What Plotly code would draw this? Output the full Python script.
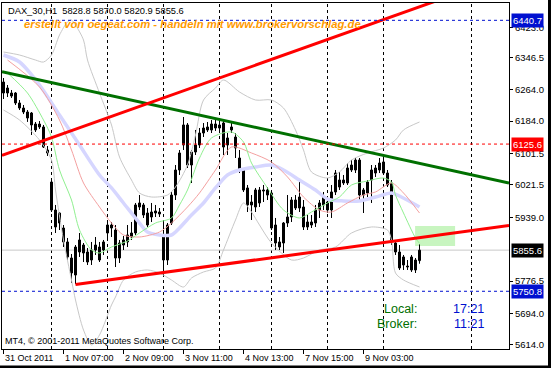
import plotly.graph_objects as go

# ---------------- data ----------------
bars = list(range(105))
opens = [6283.6, 6255.6, 6255.6, 6255.6, 6230.2, 6217.4, 6207.2, 6204.7, 6161.5, 6176.7,
         6169.1, 6110.5, 6029.0, 5957.7, 5950.1, 5911.9, 5876.3, 5835.5, 5792.2, 5850.8,
         5868.6, 5850.8, 5830.4, 5855.9, 5863.5, 5855.9, 5899.2, 5919.5, 5906.8, 5835.5,
         5868.6, 5876.3, 5889.0, 5899.2, 5965.4, 5970.5, 5950.1, 5939.9, 5950.1, 5952.6,
         5889.0, 5830.4, 5924.6, 5995.9, 6059.6, 6123.2, 6174.2, 6072.3, 6105.4, 6123.2,
         6153.8, 6169.1, 6161.5, 6166.5, 6166.5, 6179.2, 6141.1, 6161.5, 6143.6, 6090.1,
         6059.6, 6013.8, 5970.5, 5965.4, 5975.6, 6006.0, 6008.7, 6001.0, 5919.5, 5876.3,
         5873.7, 5924.6, 5939.9, 5983.2, 5962.8, 5965.4, 5914.5, 5919.5, 5924.6, 5957.7,
         5970.5, 5978.1, 5957.7, 6003.6, 6016.3, 6034.1, 6026.5, 6072.3, 6059.6, 6085.0,
         5995.9, 6001.0, 6034.1, 6051.9, 6059.6, 6080.0, 6051.9, 6026.5, 5873.7, 5850.8,
         5817.7, 5815.0, 5838.1, 5805.0, 5828.8]
highs = [6293.8, 6276.0, 6263.3, 6258.0, 6237.8, 6225.1, 6212.3, 6207.2, 6181.8, 6184.3,
         6174.2, 6120.7, 6039.2, 5970.5, 5952.6, 5919.5, 5886.5, 5845.7, 5868.6, 5899.2,
         5873.7, 5861.0, 5876.3, 5889.0, 5876.3, 5881.4, 5924.6, 5927.2, 5919.5, 5881.4,
         5891.6, 5919.5, 5927.2, 5975.6, 5995.9, 5975.6, 5962.8, 5975.6, 5970.5, 5962.8,
         5924.6, 5924.6, 6003.6, 6072.3, 6110.5, 6194.5, 6179.2, 6110.5, 6161.5, 6166.5,
         6179.2, 6181.8, 6186.9, 6192.0, 6186.9, 6186.9, 6153.8, 6179.2, 6153.8, 6110.5,
         6064.7, 6021.4, 5995.9, 6013.8, 6016.3, 6021.4, 6016.3, 6008.7, 5937.4, 5889.0,
         5927.2, 5995.9, 5990.8, 5995.9, 6034.1, 5983.2, 5945.0, 5945.0, 5970.5, 5983.2,
         6003.6, 5993.3, 6021.4, 6059.6, 6054.5, 6046.9, 6077.4, 6085.0, 6090.1, 6090.1,
         6013.8, 6034.1, 6072.3, 6072.3, 6090.1, 6092.7, 6059.6, 6034.1, 5881.4, 5868.6,
         5843.2, 5830.4, 5843.2, 5835.5, 5870.0]
lows = [6240.3, 6245.4, 6243.0, 6225.1, 6212.3, 6202.0, 6182.0, 6148.7, 6156.4, 6164.0,
        6115.6, 6095.3, 5952.6, 5899.2, 5906.8, 5863.5, 5830.4, 5771.9, 5769.0, 5838.1,
        5825.3, 5817.7, 5817.7, 5843.2, 5825.3, 5843.2, 5881.4, 5889.0, 5812.6, 5822.8,
        5855.9, 5863.5, 5881.4, 5894.1, 5957.7, 5937.4, 5914.5, 5927.2, 5939.9, 5939.9,
        5802.0, 5817.7, 5919.5, 5983.2, 6046.9, 6110.5, 6064.7, 6026.5, 6097.8, 6115.6,
        6143.6, 6156.4, 6153.8, 6159.0, 6161.5, 6097.8, 6097.8, 6153.8, 6090.1, 6051.9,
        6003.6, 5952.6, 5932.3, 5952.6, 5965.4, 5978.1, 5983.2, 5906.8, 5855.9, 5855.9,
        5848.3, 5914.5, 5927.2, 5957.7, 5952.6, 5906.8, 5906.8, 5911.9, 5914.5, 5937.4,
        5957.7, 5950.1, 5937.4, 5995.9, 6008.7, 6021.4, 6021.4, 6054.5, 6051.9, 5983.2,
        5950.1, 5990.8, 5975.6, 6041.8, 6051.9, 6046.9, 6016.3, 5868.6, 5843.2, 5805.0,
        5805.0, 5805.0, 5800.0, 5797.3, 5820.9]
closes = [6255.6, 6268.4, 6248.0, 6230.2, 6217.4, 6207.2, 6192.0, 6174.2, 6176.7, 6169.1,
          6118.1, 6102.9, 5957.7, 5914.5, 5924.6, 5876.3, 5838.1, 5797.3, 5863.5, 5881.4,
          5848.3, 5825.3, 5855.9, 5868.6, 5830.4, 5876.3, 5919.5, 5911.9, 5835.5, 5873.7,
          5881.4, 5894.1, 5899.2, 5970.5, 5975.6, 5945.0, 5919.5, 5952.6, 5955.2, 5947.6,
          5830.4, 5919.5, 5995.9, 6059.6, 6102.9, 6174.2, 6072.3, 6105.4, 6123.2, 6153.8,
          6166.5, 6161.5, 6176.7, 6176.7, 6174.2, 6118.1, 6123.2, 6169.1, 6115.6, 6059.6,
          6008.7, 5970.5, 5978.1, 6008.7, 6008.7, 6008.7, 5995.9, 5911.9, 5873.7, 5863.5,
          5924.6, 5939.9, 5983.2, 5962.8, 5990.8, 5914.5, 5927.2, 5927.2, 5957.7, 5975.6,
          5990.8, 5957.7, 6003.6, 6051.9, 6034.1, 6026.5, 6064.7, 6059.6, 6085.0, 5995.9,
          6008.7, 6029.0, 6059.6, 6064.7, 6077.4, 6051.9, 6021.4, 5881.4, 5850.8, 5810.1,
          5838.1, 5812.6, 5805.0, 5830.4, 5855.6]

fast_ma_bars = [1, 6, 10, 12, 14, 17, 19, 22, 24, 27, 31, 34, 38, 42, 44, 46, 49, 52, 57, 60,
                62, 66, 70, 74, 77, 81, 84, 87, 91, 95, 97, 98, 100, 103, 104]
fast_ma_vals = [6306.5, 6255.6, 6186.9, 6143.6, 6059.6, 5983.2, 5906.8, 5855.9, 5848.3, 5863.5,
                5878.8, 5899.2, 5924.6, 5937.4, 5970.5, 6008.7, 6090.1, 6141.1, 6156.3, 6130.9,
                6077.4, 6013.8, 5957.7, 5937.4, 5952.6, 5975.6, 5990.8, 6021.4, 6031.6, 6039.2,
                6029.0, 5995.9, 5950.1, 5886.5, 5873.0]
mid_ma_bars = [1, 9, 14, 17, 20, 24, 27, 30, 34, 39, 42, 46, 49, 53, 57, 62, 67, 71, 75, 79,
               82, 86, 90, 93, 97, 100, 104]
mid_ma_vals = [6339.6, 6270.9, 6186.9, 6110.5, 6026.5, 5965.4, 5924.6, 5894.1, 5889.0, 5901.7,
               5924.6, 5965.4, 6001.0, 6059.6, 6118.1, 6102.9, 6079.9, 6041.8, 5990.8, 5957.7,
               5952.6, 5975.6, 5995.9, 6003.6, 6026.5, 6001.0, 5950.1]
slow_ma_bars = [0, 4, 9, 14, 19, 24, 27, 30, 34, 36, 39, 42, 44, 47, 50, 53, 56, 59, 63, 67,
                70, 74, 78, 81, 85, 89, 93, 97, 99, 104]
slow_ma_vals = [6352.4, 6334.5, 6276.0, 6199.6, 6123.2, 6046.9, 6013.8, 5975.6, 5924.6, 5901.7,
                5894.1, 5894.1, 5911.9, 5945.0, 5975.6, 6013.8, 6046.9, 6059.6, 6067.2, 6072.3,
                6059.6, 6034.1, 6008.7, 5985.7, 5980.7, 5980.7, 5990.8, 6001.0, 5993.4, 5965.4]
band_up_bars = [0, 4, 8, 10, 12, 14, 16, 17, 18, 20, 21, 24, 27, 29, 32, 34, 37, 41, 43, 46,
                48, 50, 53, 55, 59, 63, 67, 70, 73, 75, 77, 81, 84, 87, 91, 95, 98, 100, 104]
band_up_vals = [6360.0, 6352.4, 6339.6, 6334.5, 6352.4, 6403.3, 6436.4, 6441.5, 6428.8, 6390.6,
                6339.6, 6255.6, 6174.2, 6092.7, 6034.1, 6001.0, 5990.8, 5995.9, 6016.3, 6072.3,
                6148.7, 6237.8, 6268.4, 6288.7, 6258.2, 6237.8, 6237.8, 6217.4, 6161.5, 6110.5,
                6054.5, 6039.2, 6054.5, 6085.0, 6102.9, 6115.6, 6136.0, 6161.5, 6181.8]
band_lo_bars = [0, 4, 9, 12, 13, 15, 17, 18, 20, 22, 24, 27, 28, 30, 33, 36, 39, 42, 45, 47,
                50, 53, 55, 58, 60, 62, 64, 67, 72, 75, 79, 83, 87, 92, 96, 97, 98, 100, 104]
band_lo_vals = [6212.3, 6186.9, 6136.0, 6085.0, 6008.7, 5881.4, 5779.5, 5728.6, 5652.2, 5614.0,
                5639.5, 5715.9, 5736.2, 5779.5, 5799.9, 5805.0, 5797.3, 5779.5, 5761.7, 5784.6,
                5799.9, 5810.1, 5855.9, 5932.3, 5975.6, 5952.6, 5919.5, 5873.7, 5830.4, 5835.5,
                5855.9, 5863.5, 5899.2, 5914.5, 5906.8, 5881.4, 5797.3, 5779.5, 5761.7]

# trend lines: two anchor points each (bar index, price)
green_line_bars = [0, 126]
green_line_prices = [6308.8, 6027.5]
resist_line_bars = [0, 100]
resist_line_prices = [6098.3, 6460.6]
support_line_bars = [18, 124]
support_line_prices = [5768.3, 5914.9]

# horizontal levels
level_prices = [6440.7, 6125.6, 5750.8]
level_colors = ["#0010D0", "#FF0000", "#0010D0"]
bid_price = 5855.6

# rectangle object
rect_bars = [102.9, 112.9]
rect_prices = [5866.0, 5917.0]

price_ticks = [6423.0, 6346.5, 6264.0, 6184.0, 6101.5, 6021.5, 5939.0, 5776.5, 5694.0, 5614.0]
time_label_bars = [0, 15, 30, 45, 60, 75, 90]
time_labels = ["31 Oct 2011", "1 Nov 07:00", "2 Nov 09:00", "3 Nov 11:00",
               "4 Nov 13:00", "7 Nov 15:00", "9 Nov 03:00"]
day_sep_bars = [12, 26, 40, 54, 67, 81, 95, 117]

header_text = "DAX_30,H1  5828.8 5870.0 5820.9 5855.6"
watermark_text = "erstellt von oegeat.com - handeln mit www.brokervorschlag.de"
copyright_text = "MT4, © 2001-2011 MetaQuotes Software Corp."

# ---------------- layout geometry ----------------
W, H = 551, 368
ML, MR, MT, MB = 2, 42, 3, 19
PW, PH = W - ML - MR, H - MT - MB
XR = [-0.375, 126.375]
YR = [5603.8, 6484.8]
FONT = "Liberation Sans, Arial, sans-serif"


def px_x(px):
    return (px - ML) / PW


def px_y(py):
    return (H - MB - py) / PH


def extend(bx, py, x0, x1):
    k = (py[1] - py[0]) / (bx[1] - bx[0])
    return [x0, x1], [py[0] + k * (x0 - bx[0]), py[0] + k * (x1 - bx[0])]


fig = go.Figure()

# wicks
wx, wy = [], []
for i, lo, hi in zip(bars, lows, highs):
    wx += [i, i, None]
    wy += [lo, hi, None]
fig.add_trace(go.Scatter(x=wx, y=wy, mode="lines", line=dict(color="black", width=1),
                         hoverinfo="skip"))

# bodies
body_base = [min(o, c) for o, c in zip(opens, closes)]
body_h = [max(abs(c - o), 0.6) for o, c in zip(opens, closes)]
body_col = ["#FF0000" if c < o else "#FFFFFF" for o, c in zip(opens, closes)]
fig.add_trace(go.Bar(x=bars, y=body_h, base=body_base, width=0.5,
                     marker=dict(color=body_col, line=dict(color="black", width=1))))

# indicators
fig.add_trace(go.Scatter(x=slow_ma_bars, y=slow_ma_vals, mode="lines",
                         line=dict(color="#D6D6FF", width=3.5, shape="spline", smoothing=0.8)))
fig.add_trace(go.Scatter(x=band_up_bars, y=band_up_vals, mode="lines",
                         line=dict(color="#C8C8C8", width=1, shape="spline", smoothing=0.8)))
fig.add_trace(go.Scatter(x=band_lo_bars, y=band_lo_vals, mode="lines",
                         line=dict(color="#C8C8C8", width=1, shape="spline", smoothing=0.8)))
fig.add_trace(go.Scatter(x=mid_ma_bars, y=mid_ma_vals, mode="lines",
                         line=dict(color="#F4A0A0", width=1, shape="spline", smoothing=0.8)))
fig.add_trace(go.Scatter(x=fast_ma_bars, y=fast_ma_vals, mode="lines",
                         line=dict(color="#90F090", width=1, shape="spline", smoothing=0.8)))

# trend lines
gx, gy = extend(green_line_bars, green_line_prices, XR[0], XR[1])
fig.add_trace(go.Scatter(x=gx, y=gy, mode="lines", line=dict(color="#007000", width=3)))
rx, ry = extend(resist_line_bars, resist_line_prices, XR[0], XR[1])
fig.add_trace(go.Scatter(x=rx, y=ry, mode="lines", line=dict(color="#FF0000", width=3)))
sx, sy = extend(support_line_bars, support_line_prices, support_line_bars[0], XR[1])
fig.add_trace(go.Scatter(x=sx, y=sy, mode="lines", line=dict(color="#FF0000", width=3)))

shapes = []
# grid day separators
for b in day_sep_bars:
    shapes.append(dict(type="line", xref="x", yref="paper", x0=b, x1=b, y0=0, y1=1,
                       line=dict(color="black", width=1, dash="3px,3px"), layer="below"))
# bid line
shapes.append(dict(type="line", xref="paper", yref="y", x0=0, x1=1, y0=bid_price, y1=bid_price,
                   line=dict(color="#C8C8C8", width=1), layer="below"))
# rectangle
shapes.append(dict(type="rect", xref="x", yref="y", x0=rect_bars[0], x1=rect_bars[1],
                   y0=rect_prices[0], y1=rect_prices[1], fillcolor="#C8F5C0",
                   line=dict(width=0), layer="below"))
# levels
for p, c in zip(level_prices, level_colors):
    shapes.append(dict(type="line", xref="paper", yref="y", x0=0, x1=1, y0=p, y1=p,
                       line=dict(color=c, width=1, dash="3px,3px"), layer="above"))
# outer window frame (right and bottom dark strips)
shapes.append(dict(type="rect", xref="paper", yref="paper", x0=px_x(548), x1=px_x(560),
                   y0=px_y(380), y1=px_y(-10), fillcolor="black", line=dict(width=0)))
shapes.append(dict(type="rect", xref="paper", yref="paper", x0=px_x(-10), x1=px_x(560),
                   y0=px_y(380), y1=px_y(365.5), fillcolor="black", line=dict(width=0)))

annotations = []
# price boxes
for p, c in [(level_prices[0], level_colors[0]), (level_prices[1], level_colors[1]),
             (bid_price, "#000000"), (level_prices[2], level_colors[2])]:
    annotations.append(dict(xref="paper", yref="y", x=1, y=p, xanchor="left", yanchor="middle",
                            xshift=2, text=f"{p:.1f}", showarrow=False, bgcolor=c, borderpad=1,
                            font=dict(family=FONT, size=9.5, color="white")))
# time labels
for b, t in zip(time_label_bars, time_labels):
    annotations.append(dict(xref="x", yref="paper", x=b, y=px_y(357.5), xanchor="left",
                            yanchor="middle", xshift=-1, text=t, showarrow=False,
                            font=dict(family=FONT, size=9, color="black")))
annotations.append(dict(xref="paper", yref="paper", x=px_x(6), y=px_y(11), xanchor="left",
                        yanchor="middle", text=header_text, showarrow=False,
                        font=dict(family=FONT, size=9.3, color="black")))
annotations.append(dict(xref="paper", yref="paper", x=px_x(22), y=px_y(24.5), xanchor="left",
                        yanchor="middle", text=watermark_text, showarrow=False,
                        font=dict(family=FONT, size=11.3, color="#FF9A00", weight="bold",
                                  style="italic")))
annotations.append(dict(xref="paper", yref="paper", x=px_x(3), y=px_y(341), xanchor="left",
                        yanchor="middle", text=copyright_text, showarrow=False,
                        font=dict(family=FONT, size=9, color="black")))
for lab, val, yy in [("Local:", "17:21", 309), ("Broker:", "11:21", 323.5)]:
    annotations.append(dict(xref="paper", yref="paper", x=px_x(419), y=px_y(yy), xanchor="right",
                            yanchor="middle", text=lab, showarrow=False,
                            font=dict(family=FONT, size=12.5, color="#007000")))
    annotations.append(dict(xref="paper", yref="paper", x=px_x(486), y=px_y(yy), xanchor="right",
                            yanchor="middle", text=val, showarrow=False,
                            font=dict(family=FONT, size=12.5, color="#0010D0")))

fig.update_layout(
    width=W, height=H, margin=dict(l=ML, r=MR, t=MT, b=MB, pad=0, autoexpand=False),
    paper_bgcolor="white", plot_bgcolor="white", showlegend=False, barmode="overlay",
    shapes=shapes, annotations=annotations, hovermode=False,
    xaxis=dict(range=XR, showgrid=False, zeroline=False, showline=True, mirror=True,
               linecolor="black", linewidth=1, tickvals=time_label_bars, ticks="outside",
               ticklen=4, tickcolor="black", showticklabels=False, fixedrange=True),
    yaxis=dict(range=YR, side="right", showgrid=False, zeroline=False, showline=True,
               mirror=True, linecolor="black", linewidth=1, tickvals=price_ticks,
               ticktext=[f"{p:.1f}" for p in price_ticks], ticks="outside", ticklen=3,
               tickcolor="black", tickfont=dict(family=FONT, size=9.5, color="black"),
               fixedrange=True),
)

fig.write_html("out.html", config={"staticPlot": True},
               post_script="document.body.style.margin='0';document.body.style.overflow='hidden';")
